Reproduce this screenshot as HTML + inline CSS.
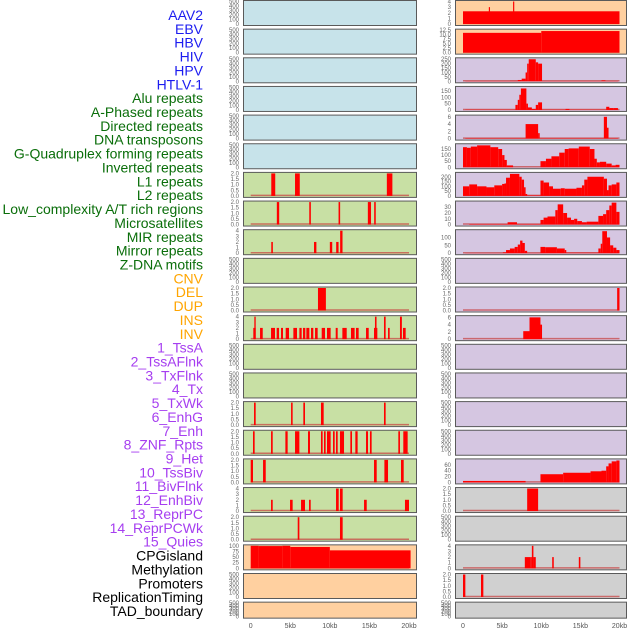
<!DOCTYPE html>
<html><head><meta charset="utf-8"><style>
html,body{margin:0;padding:0;background:#fff;width:630px;height:630px;overflow:hidden}
svg{display:block}
</style></head><body>
<svg id="chart" width="630" height="630" xmlns="http://www.w3.org/2000/svg"></svg>
<script>
const labelNames = ["AAV2","EBV","HBV","HIV","HPV","HTLV-1","Alu repeats","A-Phased repeats","Directed repeats","DNA transposons","G-Quadruplex forming repeats","Inverted repeats","L1 repeats","L2 repeats","Low_complexity A/T rich regions","Microsatellites","MIR repeats","Mirror repeats","Z-DNA motifs","CNV","DEL","DUP","INS","INV","1_TssA","2_TssAFlnk","3_TxFlnk","4_Tx","5_TxWk","6_EnhG","7_Enh","8_ZNF_Rpts","9_Het","10_TssBiv","11_BivFlnk","12_EnhBiv","13_ReprPC","14_ReprPCWk","15_Quies","CPGisland","Methylation","Promoters","ReplicationTiming","TAD_boundary"];
const labelColors = ["#1c1cf0","#1c1cf0","#1c1cf0","#1c1cf0","#1c1cf0","#1c1cf0","#0a6e0a","#0a6e0a","#0a6e0a","#0a6e0a","#0a6e0a","#0a6e0a","#0a6e0a","#0a6e0a","#0a6e0a","#0a6e0a","#0a6e0a","#0a6e0a","#0a6e0a","#ffa500","#ffa500","#ffa500","#ffa500","#ffa500","#a63ef0","#a63ef0","#a63ef0","#a63ef0","#a63ef0","#a63ef0","#a63ef0","#a63ef0","#a63ef0","#a63ef0","#a63ef0","#a63ef0","#a63ef0","#a63ef0","#a63ef0","#000","#000","#000","#000","#000"];
const xTickValues = [0,5,10,15,20];
const xTickLabels = ["0","5kb","10kb","15kb","20kb"];
const ticksEmpty = [0,100,200,300,400,500];
const ticks2 = [0,0.5,1.0,1.5,2.0];
const ticks4 = [0,1,2,3,4];
// segments: [startKb, endKb, value]
const segL6 = [[2.6,3.1,2],[5.6,6.2,2],[17.2,17.9,2]];
const segL7 = [[3.3,3.6,2],[7.4,7.6,2],[11.1,11.3,2],[14.8,15.2,2],[15.6,15.8,2]];
const segL8 = [[2.6,2.8,2],[8.0,8.3,2],[10.0,10.3,2],[10.8,11.1,2],[11.3,11.6,4]];
const segL10 = [[8.5,9.5,2]];
const segL11 = [[0.33,0.63,2],[0.46,0.63,4],[1.18,1.52,2],[2.57,3.07,2],[3.28,3.58,2],[3.83,4.08,2],[4.42,4.84,2],[5.39,5.85,2],[6.15,6.44,2],[6.61,6.9,2],[7.03,7.41,2],[7.62,7.91,2],[8.13,8.46,2],[8.97,9.39,2],[9.64,10.1,2],[10.74,10.99,2],[11.58,12.13,2],[12.67,13.13,2],[13.3,13.64,2],[14.57,14.91,2],[15.58,16.0,2],[15.7,15.9,4],[16.84,17.05,4],[17.35,17.56,2],[18.86,19.1,4],[19.24,19.58,2]];
const segL14 = [[0.42,0.63,2],[5.1,5.3,2],[6.65,6.86,2],[8.88,9.22,2],[16.84,17.05,2]];
const segL15 = [[0.29,0.5,2],[2.57,2.78,2],[4.38,4.67,2],[5.6,6.15,2],[7.24,7.49,2],[8.88,9.09,2],[9.26,9.47,2],[9.64,10.1,2],[10.4,10.61,2],[10.78,10.99,2],[11.28,11.79,2],[12.59,12.8,2],[13.22,13.51,2],[14.57,14.82,2],[15.07,15.28,2],[18.65,18.86,2],[19.28,19.83,2]];
const segL16 = [[0,0.29,2],[1.56,1.9,2],[15.58,15.92,2],[16.89,17.35,2],[18.99,19.33,2]];
const segL17 = [[2.57,2.78,2],[4.97,5.3,2],[6.36,6.86,2],[7.37,7.58,2],[10.78,11.12,4],[11.28,11.62,4],[14.32,14.66,2],[19.49,20,2]];
const segL18 = [[5.94,6.15,2],[11.28,11.62,2]];
const segL19 = [[0,1,100],[1,4,99],[4,5,100],[5,10,95],[10,20.2,80]];
const segR0 = [[0,20,2.26],[3.3,3.45,3],[6.4,6.55,4]];
const segR1 = [[0,10,11],[10,20,12]];
const segR2 = [[0.3,6,3],[6,7,5],[7,7.5,15],[7.5,8,30],[8,8.2,100],[8.2,8.4,200],[8.4,9.3,250],[9.3,9.6,215],[9.6,10.1,200],[10.1,17.7,3],[17.7,18.2,10],[18.2,19.8,3]];
const segR3 = [[0.3,6.7,2],[6.7,7.0,40],[7.0,7.2,80],[7.2,7.4,120],[7.4,8.1,170],[8.1,8.3,50],[8.3,8.8,20],[8.8,9.3,8],[9.3,9.6,40],[9.6,10.1,60],[10.1,13.1,2],[13.1,13.6,8],[13.6,18.3,2],[18.3,18.7,25],[18.7,19.2,15],[19.2,19.8,15]];
const segR4 = [[0.3,8.0,0.1],[8.0,9.6,4],[9.6,9.8,1.5],[9.8,18.0,0.1],[18.0,18.4,6],[18.4,18.6,3],[18.6,19.8,0.1]];
const segR5 = [[0,0.5,165],[0.5,1,160],[1,1.8,170],[1.8,3.5,180],[3.5,4.5,165],[4.5,5,150],[5,5.3,100],[5.3,5.6,60],[5.6,6.4,15],[9.9,10.6,50],[10.6,11.3,70],[11.3,12.3,90],[12.3,13,120],[13,13.5,150],[13.5,14.8,155],[14.8,16.2,170],[16.2,16.8,150],[16.8,17.1,70],[17.1,17.5,40],[17.5,18.3,45],[18.3,19,30],[19,19.5,15],[19.5,20,20]];
const segR6 = [[0,0.8,100],[0.8,1.8,120],[1.8,3,100],[3,4,90],[4,5,110],[5,5.3,125],[5.3,5.5,130],[5.5,6,190],[6,7.2,230],[7.2,7.5,200],[7.5,7.8,170],[7.8,8,90],[8,8.2,20],[8.2,9.9,5],[9.9,10.3,160],[10.3,11,140],[11,11.5,100],[11.5,12.5,75],[12.5,13,80],[13,14.5,75],[14.5,15.2,85],[15.2,15.5,110],[15.5,15.9,170],[15.9,18,200],[18,18.4,180],[18.4,18.6,60],[18.6,19,110],[19,19.6,120],[19.6,20,140]];
const segR7 = [[0.8,5.7,0.8],[5.7,6.9,4],[6.9,9.9,0.8],[9.9,10.3,8],[10.3,10.8,12],[10.8,11.8,14],[11.8,12.1,25],[12.1,12.8,35],[12.8,13.3,20],[13.3,13.8,12],[13.8,14.2,8],[14.2,14.6,10],[14.6,15.2,6],[15.2,15.8,4],[15.8,17.3,5],[17.3,17.9,15],[17.9,18.3,18],[18.3,18.7,25],[18.7,19,33],[19,19.6,38],[19.6,20,22]];
const segR8 = [[0.3,5.1,1],[5.1,5.5,5],[5.5,6,20],[6,6.6,30],[6.6,7,40],[7,7.3,55],[7.3,7.6,80],[7.6,7.9,65],[7.9,8.2,15],[8.2,9.9,1],[9.9,10.5,40],[10.5,12,38],[12,13,30],[13,13.2,20],[13.2,17.3,3],[17.3,17.6,30],[17.6,17.8,60],[17.8,18.4,140],[18.4,18.8,100],[18.8,19.2,50],[19.2,19.6,35],[19.6,20,20]];
const segR10 = [[19.7,20,2]];
const segR11 = [[7.7,8.5,2.2],[8.5,9.9,6],[9.9,10.1,4]];
const segR16 = [[0,8,5],[9.9,12.8,28],[12.8,16.3,33],[16.3,17.7,38],[17.7,18.3,40],[18.3,18.6,55],[18.6,19,65],[19,19.6,72],[19.6,20,75]];
const segR17 = [[8.2,9.6,2]];
const segR19 = [[7.9,8.6,2],[8.6,8.8,2],[8.8,9.0,4],[9.0,9.3,2],[11.4,11.6,2],[14.8,15.0,2]];
const segR20 = [[0,0.3,2],[2.3,2.6,2]];

const BLUE="#c7e3ea",GREEN="#c8e0a4",PEACH="#ffd0a0",PURPLE="#d5c6e1",GREY="#d0d0d0";
function P(bg,seg,ymax,ticks,fmt){return {bg,seg,ymax,ticks,fmt};}
const E=()=>null;
const leftPanels=[
 P(BLUE,null,500,ticksEmpty),P(BLUE,null,500,ticksEmpty),P(BLUE,null,500,ticksEmpty),P(BLUE,null,500,ticksEmpty),P(BLUE,null,500,ticksEmpty),P(BLUE,null,500,ticksEmpty),
 P(GREEN,segL6,2,ticks2,1),P(GREEN,segL7,2,ticks2,1),P(GREEN,segL8,4,ticks4),P(GREEN,null,500,ticksEmpty),P(GREEN,segL10,2,ticks2,1),P(GREEN,segL11,4,ticks4),
 P(GREEN,null,500,ticksEmpty),P(GREEN,null,500,ticksEmpty),P(GREEN,segL14,2,ticks2,1),P(GREEN,segL15,2,ticks2,1),P(GREEN,segL16,2,ticks2,1),P(GREEN,segL17,4,ticks4),P(GREEN,segL18,2,ticks2,1),
 P(PEACH,segL19,100,[0,25,50,75,100]),P(PEACH,null,500,ticksEmpty),P(PEACH,null,500,ticksEmpty)];
const rightPanels=[
 P(PEACH,segR0,4,ticks4),P(PEACH,segR1,12.5,[0,2.5,5,7.5,10,12.5],1),
 P(PURPLE,segR2,255,[0,50,100,150,200,250]),P(PURPLE,segR3,178,[0,50,100,150]),P(PURPLE,segR4,6.2,[0,2,4,6]),P(PURPLE,segR5,185,[0,50,100,150]),P(PURPLE,segR6,235,[0,50,100,150,200]),
 P(PURPLE,segR7,39,[0,10,20,30]),P(PURPLE,segR8,143,[0,50,100]),P(PURPLE,null,500,ticksEmpty),P(PURPLE,segR10,2,ticks2,1),P(PURPLE,segR11,6.2,[0,2,4,6]),
 P(PURPLE,null,500,ticksEmpty),P(PURPLE,null,500,ticksEmpty),P(PURPLE,null,500,ticksEmpty),P(PURPLE,null,500,ticksEmpty),P(PURPLE,segR16,77,[0,20,40,60]),
 P(GREY,segR17,2,ticks2,1),P(GREY,null,500,ticksEmpty),P(GREY,segR19,4,ticks4),P(GREY,segR20,2,ticks2,1),P(GREY,null,500,ticksEmpty)];

const svg=document.getElementById('chart');
const NS="http://www.w3.org/2000/svg";
function mk(tag,attrs){const e=document.createElementNS(NS,tag);for(const k in attrs)e.setAttribute(k,attrs[k]);svg.appendChild(e);return e;}

labelNames.forEach((n,i)=>{
 const t=mk('text',{x:203,y:15+i*13.86+5,'text-anchor':'end','font-size':'14','font-family':'Liberation Sans, sans-serif',fill:labelColors[i]});
 t.textContent=n;
 
 
});

const cols=[{x0:243,x1:416,k0:250.7,k1:409,tx:239,panels:leftPanels,name:'left'},{x0:455,x1:626,k0:463,k1:619.5,tx:451,panels:rightPanels,name:'right'}];
function rowTop(i){return i*28.65;}
cols.forEach(c=>{
 const xs=kb=>c.k0+(kb/20)*(c.k1-c.k0);
 c.panels.forEach((p,i)=>{
  const T=rowTop(i)+0.5,H=(i===21)?16:25;
  const ys=v=>T+H-1.5-(v/p.ymax)*(H-2.5);
  const r=mk('rect',{x:c.x0+0.5,y:T,width:c.x1-c.x0,height:H,fill:p.bg,stroke:'#5a5a5a','stroke-width':1});
  
  
  p.ticks.forEach(tv=>{
   const t=mk('text',{x:c.tx,y:ys(tv)+2,'text-anchor':'end','font-size':'6','font-family':'Liberation Sans, sans-serif',fill:'#666'});
   t.textContent=p.fmt?tv.toFixed(1):String(tv);
   
   
  });
  if(p.seg){
   const b=mk('line',{x1:xs(0),x2:xs(20),y1:ys(0)-0.5,y2:ys(0)-0.5,stroke:'#c84040','stroke-width':1.5,opacity:0.7});
   
   
   p.seg.forEach(s=>{
    const y=ys(s[2]);
    const bar=mk('rect',{x:xs(s[0]),y:y,width:Math.max(1,xs(s[1])-xs(s[0])),height:ys(0)-y,fill:'#ff0000'});
    
    
   });
  }
 });
 xTickValues.forEach((v,j)=>{
  const t=mk('text',{x:xs(v),y:628,'text-anchor':'middle','font-size':'7','font-family':'Liberation Sans, sans-serif',fill:'#555'});
  t.textContent=xTickLabels[j];
  
  
 });
});
</script>
</body></html>
